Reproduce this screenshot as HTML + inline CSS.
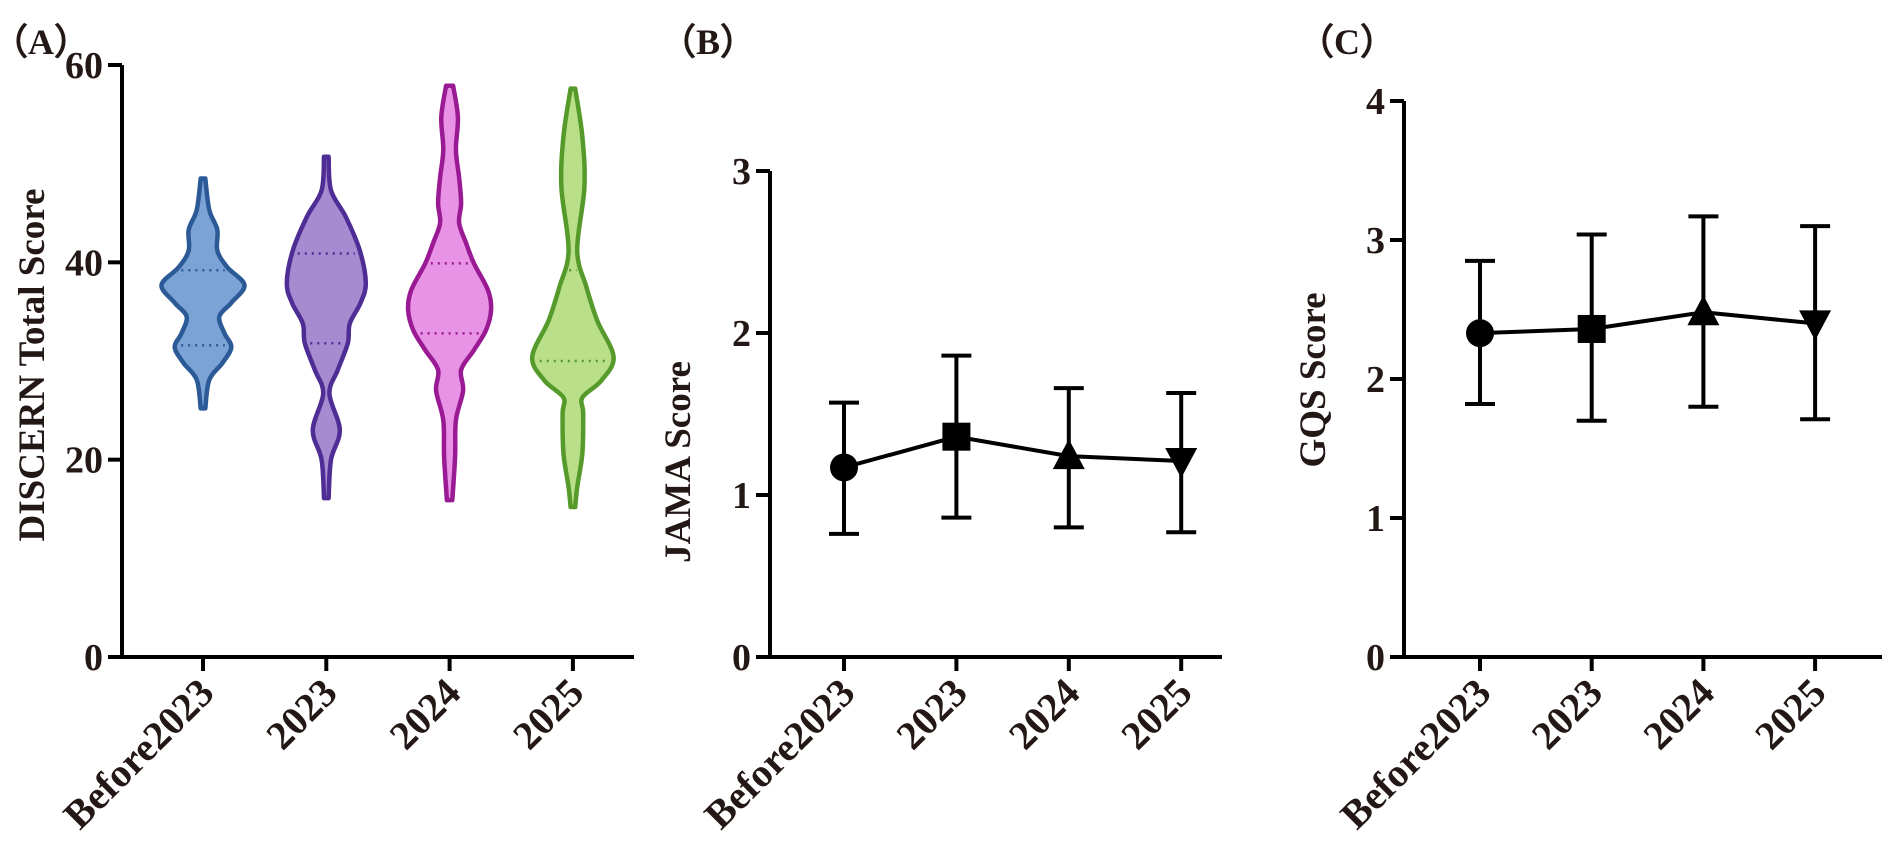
<!DOCTYPE html>
<html><head><meta charset="utf-8"><style>
html,body{margin:0;padding:0;background:#fff;}
svg{display:block;font-family:"Liberation Serif","Times New Roman",serif;font-weight:bold;}
</style></head><body>
<svg id="fig" width="1900" height="856" viewBox="0 0 1900 856" xmlns="http://www.w3.org/2000/svg"></svg>
<script>
const categories = ["Before2023","2023","2024","2025"];
// Panel A violins: score levels and relative density (0-1)
const vScores = [
 [48.5,45.3,43.3,41.2,39.5,37.7,35.9,34.5,32.8,31.4,29.8,28.1,25.2],
 [50.7,47.3,44.6,41.2,37.9,35.9,33.8,31.8,29.1,26.7,23.0,20.0,16.1],
 [57.9,54.7,51.4,48.6,46.0,44.0,42.0,39.9,37.2,35.2,33.1,31.1,29.1,27.0,24.0,20.3,15.9],
 [57.6,52.7,47.6,41.2,37.5,34.1,30.4,28.0,26.3,24.7,20.7,17.2,15.2]
];
const vDensity = [
 [0.02,0.12,0.32,0.32,0.57,1.0,0.67,0.37,0.5,0.67,0.45,0.12,0.02],
 [0.02,0.08,0.45,0.8,0.95,0.82,0.55,0.5,0.25,0.04,0.3,0.08,0.02],
 [0.05,0.17,0.12,0.2,0.25,0.2,0.37,0.57,0.92,1.0,0.87,0.57,0.25,0.3,0.12,0.1,0.03],
 [0.02,0.2,0.25,0.07,0.3,0.57,0.98,0.67,0.2,0.22,0.2,0.07,0.02]
];
const vQuartiles = [[39.2,31.6],[40.9,31.8],[39.9,32.8],[39.2,30.0]];
// Panel B JAMA
const jamaMean = [1.17,1.36,1.24,1.21];
const jamaLow = [0.76,0.86,0.80,0.77];
const jamaHigh = [1.57,1.86,1.66,1.63];
// Panel C GQS
const gqsMean = [2.33,2.36,2.48,2.40];
const gqsLow = [1.82,1.70,1.80,1.71];
const gqsHigh = [2.85,3.04,3.17,3.10];
const ticksA = [0,20,40,60];
const ticksB = [0,1,2,3];
const ticksC = [0,1,2,3,4];

const NS="http://www.w3.org/2000/svg";
const svg=document.getElementById('fig');
function el(tag,attrs,parent){const e=document.createElementNS(NS,tag);for(const k in attrs)e.setAttribute(k,attrs[k]);(parent||svg).appendChild(e);return e;}
function txt(s,attrs,parent){const e=el('text',attrs,parent);e.textContent=s;return e;}

function axes(cfg){
  const g=el('g',{});
  
  
  const y=v=>cfg.y0-(v-cfg.vmin)/(cfg.vmax-cfg.vmin)*(cfg.y0-cfg.y1);
  const x=i=>cfg.xs0+i*cfg.dx;
  el('line',{x1:cfg.ax,y1:y(cfg.vmax),x2:cfg.ax,y2:cfg.y0+2,stroke:'#000','stroke-width':4},g);
  el('line',{x1:cfg.ax-2,y1:cfg.y0,x2:cfg.xend,y2:cfg.y0,stroke:'#000','stroke-width':4},g);
  cfg.ticks.forEach(t=>{
    el('line',{x1:cfg.ax-14,y1:y(t),x2:cfg.ax,y2:y(t),stroke:'#000','stroke-width':4},g);
    const tl=txt(String(t),{x:cfg.ax-19,y:y(t)+13,'text-anchor':'end','font-size':38,fill:'#231815'},g);
    
    
  });
  categories.forEach((c,i)=>{
    el('line',{x1:x(i),y1:cfg.y0,x2:x(i),y2:cfg.y0+14,stroke:'#000','stroke-width':4},g);
    const tl=txt(c,{x:x(i)+13,y:cfg.y0+38,'text-anchor':'end','font-size':40,fill:'#231815',transform:`rotate(-45 ${x(i)+13} ${cfg.y0+38})`},g);
    
    
  });
  const yt=txt(cfg.title,{x:cfg.tx,y:cfg.ty,'text-anchor':'middle','font-size':37,fill:'#231815',transform:`rotate(-90 ${cfg.tx} ${cfg.ty})`},g);
  
  
  const pl=txt(cfg.panel,{x:cfg.px,y:54,'font-size':36,fill:'#231815'},g);
  
  
  return {y,x,g};
}

// Panel A
const A=axes({name:'panel-a',ax:122,y0:657,y1:65,vmin:0,vmax:60,xs0:203,dx:123.3,xend:634,ticks:ticksA,title:'DISCERN Total Score',tx:44,ty:365,panel:'（A）',px:-8});
const fills=['#7BA3D5','#A78BD1','#E993E6','#B9DF88'];
const strokes=['#2B5A97','#4E2D94','#9A1A94','#559A2B'];
const maxHW=40;
function smooth(pts){
  let d=`M${pts[0][0]},${pts[0][1]}`;
  for(let i=0;i<pts.length-1;i++){
    const p0=pts[i-1]||pts[i],p1=pts[i],p2=pts[i+1],p3=pts[i+2]||p2;
    const c1=[p1[0]+(p2[0]-p0[0])/6,p1[1]+(p2[1]-p0[1])/6];
    const c2=[p2[0]-(p3[0]-p1[0])/6,p2[1]-(p3[1]-p1[1])/6];
    d+=` C${c1[0]},${c1[1]} ${c2[0]},${c2[1]} ${p2[0]},${p2[1]}`;
  }
  return d;
}
vScores.forEach((sc,i)=>{
  const cx=A.x(i);
  const right=sc.map((s,j)=>[cx+vDensity[i][j]*maxHW+1.5,A.y(s)]);
  const left=sc.map((s,j)=>[cx-vDensity[i][j]*maxHW-1.5,A.y(s)]).reverse();
  let d=smooth(right);
  d+=` L${left[0][0]},${left[0][1]}`+smooth(left).replace(/^M[^C]*/,'')+'Z';
  const p=el('path',{d:d,fill:fills[i],stroke:strokes[i],'stroke-width':4.5,'stroke-linejoin':'round'},A.g);
  
  
  vQuartiles[i].forEach(q=>{
    let w=0;
    for(let j=0;j<sc.length-1;j++){if(q<=sc[j]&&q>=sc[j+1]){const t=(sc[j]-q)/(sc[j]-sc[j+1]);w=(vDensity[i][j]*(1-t)+vDensity[i][j+1]*t)*maxHW;}}
    const l=el('line',{x1:cx-w+4,x2:cx+w-4,y1:A.y(q),y2:A.y(q),stroke:strokes[i],'stroke-width':2.5,'stroke-dasharray':'2 5'},A.g);
    
    
  });
});

function errPanel(P,mean,lo,hi,r){
  const pts=mean.map((m,i)=>`${P.x(i)},${P.y(m)}`).join(' ');
  mean.forEach((m,i)=>{
    const cx=P.x(i);
    const e=el('g',{},P.g);
    
    
    el('line',{x1:cx,x2:cx,y1:P.y(hi[i]),y2:P.y(lo[i]),stroke:'#000','stroke-width':4},e);
    el('line',{x1:cx-15,x2:cx+15,y1:P.y(hi[i]),y2:P.y(hi[i]),stroke:'#000','stroke-width':4},e);
    el('line',{x1:cx-15,x2:cx+15,y1:P.y(lo[i]),y2:P.y(lo[i]),stroke:'#000','stroke-width':4},e);
  });
  const ln=el('polyline',{points:pts,fill:'none',stroke:'#000','stroke-width':4},P.g);
  
  
  mean.forEach((m,i)=>{
    const cx=P.x(i),cy=P.y(m);let mk;
    if(i===0) mk=el('circle',{cx:cx,cy:cy,r:r},P.g);
    else if(i===1) mk=el('rect',{x:cx-r,y:cy-r,width:2*r,height:2*r},P.g);
    else if(i===2) mk=el('polygon',{points:`${cx},${cy-r-3} ${cx-r-2},${cy+r-1} ${cx+r+2},${cy+r-1}`},P.g);
    else mk=el('polygon',{points:`${cx},${cy+r+3} ${cx-r-2},${cy-r+1} ${cx+r+2},${cy-r+1}`},P.g);
    mk.setAttribute('fill','#000');
    
    
  });
}
const B=axes({name:'panel-b',ax:770,y0:657,y1:171,vmin:0,vmax:3,xs0:844,dx:112.4,xend:1222,ticks:ticksB,title:'JAMA Score',tx:690,ty:462,panel:'（B）',px:660});
errPanel(B,jamaMean,jamaLow,jamaHigh,14);
const C=axes({name:'panel-c',ax:1404,y0:657,y1:101,vmin:0,vmax:4,xs0:1480,dx:111.7,xend:1882,ticks:ticksC,title:'GQS Score',tx:1325,ty:380,panel:'（C）',px:1298});
errPanel(C,gqsMean,gqsLow,gqsHigh,14);
</script>
</body></html>
